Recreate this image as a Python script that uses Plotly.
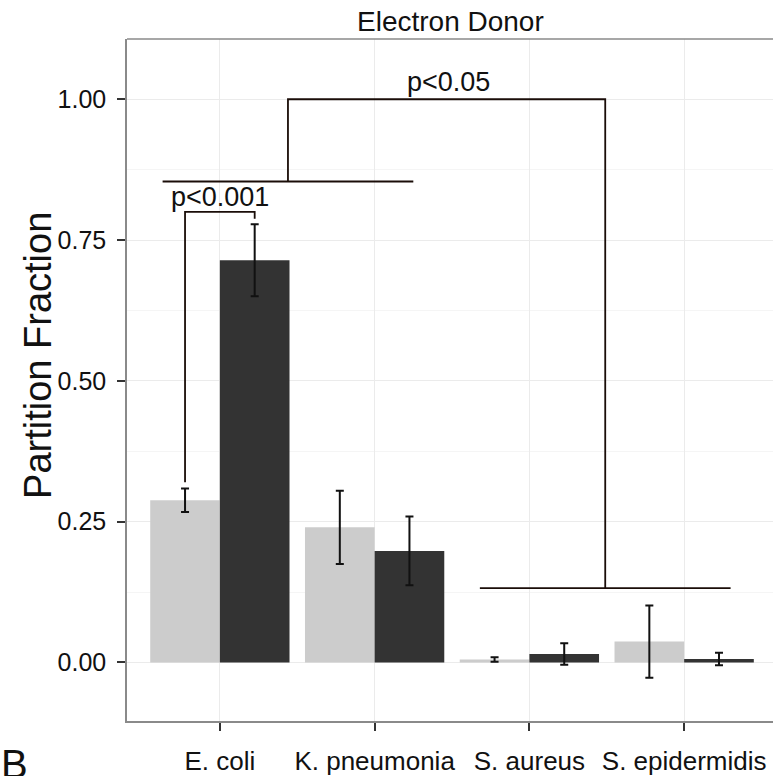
import plotly.graph_objects as go

categories = ["E. coli", "K. pneumonia", "S. aureus", "S. epidermidis"]
cat_pos = [1, 2, 3, 4]
light_vals = [0.288, 0.240, 0.005, 0.037]
light_err = [0.021, 0.065, 0.004, 0.064]
dark_vals = [0.714, 0.198, 0.015, 0.006]
dark_err = [0.064, 0.061, 0.019, 0.011]

y_ticks = [0.0, 0.25, 0.5, 0.75, 1.0]
y_ticktext = ["0.00", "0.25", "0.50", "0.75", "1.00"]

# significance brackets (data coordinates)
br1_x = [0.775, 0.775, 1.225, 1.225]
br1_y = [0.32, 0.80, 0.80, 0.788]
br2_x = [0.63, 2.25]
br2_y = [0.854, 0.854]
br3_x = [1.44, 1.44, 3.49, 3.49]
br3_y = [0.854, 1.0, 1.0, 0.132]
br4_x = [2.68, 4.30]
br4_y = [0.132, 0.132]
p_labels = ["p<0.001", "p<0.05"]
p_label_x = [1.0, 2.48]
p_label_y = [0.826, 1.03]

FONT = "Liberation Sans, Arial, sans-serif"
LINE_COL = "#1a0d08"

fig = go.Figure()
fig.add_trace(go.Bar(
    x=cat_pos, y=light_vals, marker=dict(color="#CCCCCC", line=dict(width=0)),
    error_y=dict(type="data", array=light_err, color="#111111", thickness=2, width=4),
    showlegend=False))
fig.add_trace(go.Bar(
    x=cat_pos, y=dark_vals, marker=dict(color="#333333", line=dict(width=0)),
    error_y=dict(type="data", array=dark_err, color="#111111", thickness=2, width=4),
    showlegend=False))

for bx, by in [(br1_x, br1_y), (br2_x, br2_y), (br3_x, br3_y), (br4_x, br4_y)]:
    fig.add_trace(go.Scatter(x=bx, y=by, mode="lines",
                             line=dict(color=LINE_COL, width=1.8),
                             showlegend=False, hoverinfo="skip"))

for t, tx, ty in zip(p_labels, p_label_x, p_label_y):
    fig.add_annotation(x=tx, y=ty, text=t, showarrow=False, xref="x", yref="y",
                       font=dict(family=FONT, size=27, color="#111111"))

fig.add_annotation(text="Electron Donor", xref="paper", yref="paper",
                   x=0.5, y=1.0, xanchor="center", yanchor="bottom", yshift=0,
                   showarrow=False, font=dict(family=FONT, size=28, color="#111111"))
fig.add_annotation(text="Partition Fraction", xref="paper", yref="paper",
                   x=-0.137, y=0.536, xanchor="center", yanchor="middle",
                   textangle=-90, showarrow=False,
                   font=dict(family=FONT, size=38, color="#111111"))
fig.add_annotation(text="B", xref="paper", yref="paper",
                   x=-0.198, y=-0.028, xanchor="left", yanchor="top", showarrow=False,
                   font=dict(family=FONT, size=40, color="#111111"))

# top border of panel
fig.add_shape(type="line", xref="paper", yref="paper", x0=0, x1=1, y0=1, y1=1,
              line=dict(color="#8a8a8a", width=1.5))

fig.update_layout(
    width=773, height=776,
    margin=dict(l=127, r=0, t=39, b=46),
    paper_bgcolor="white", plot_bgcolor="white",
    barmode="group", bargap=0.1, bargroupgap=0,
    xaxis=dict(range=[0.4, 4.574], tickvals=cat_pos, ticktext=categories,
               showgrid=True, gridcolor="#EBEBEB", gridwidth=1.2, zeroline=False,
               showline=True, linecolor="#8a8a8a", linewidth=1.5,
               ticks="outside", ticklen=8, tickwidth=1.5, tickcolor="#333333",
               ticklabelstandoff=8,
               tickfont=dict(family=FONT, size=26, color="#111111")),
    yaxis=dict(range=[-0.104, 1.107], tickvals=y_ticks, ticktext=y_ticktext,
               showgrid=True, gridcolor="#EBEBEB", gridwidth=1.2, zeroline=False,
               minor=dict(dtick=0.125, showgrid=True, gridcolor="#F5F5F5", gridwidth=1),
               showline=True, linecolor="#8a8a8a", linewidth=1.5,
               ticks="outside", ticklen=8, tickwidth=1.5, tickcolor="#333333",
               ticklabelstandoff=6,
               tickfont=dict(family=FONT, size=25, color="#111111")),
)

fig.write_html("out.html")
